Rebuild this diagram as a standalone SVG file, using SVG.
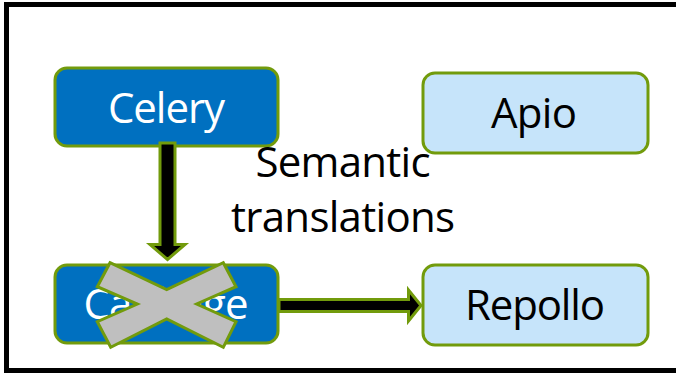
<svg xmlns="http://www.w3.org/2000/svg" width="676" height="375" viewBox="0 0 676 375">
  <style>
    .frame { fill: #ffffff; stroke: #000000; stroke-width: 5; }
    .box { stroke: #729B0C; stroke-width: 3; }
    .dark { fill: #0070C0; }
    .light { fill: #C6E4FA; }
    .lbl { font-family: "Open Sans", "Noto Sans", "DejaVu Sans", sans-serif; font-size: 42px; text-anchor: middle; }
    .white { fill: #ffffff; }
    .black { fill: #000000; }
    .arrow { fill: #000000; stroke: #729B0C; stroke-width: 3; stroke-linejoin: miter; }
    .cross { fill: #BFBFBF; stroke: #729B0C; stroke-width: 3; stroke-linejoin: miter; }
  </style>

  <!-- outer frame, open on the right side -->
  <rect class="frame" x="6.5" y="4.5" width="700" height="366"/>

  <g id="celery">
    <rect class="box dark" x="55" y="68" width="223" height="78" rx="12" ry="12"/>
    <text class="lbl white" x="166.5" y="123" textLength="117">Celery</text>
  </g>

  <g id="apio">
    <rect class="box light" x="423" y="73" width="225" height="80" rx="12" ry="12"/>
    <text class="lbl black" x="534" y="128" textLength="86">Apio</text>
  </g>

  <g id="repollo">
    <rect class="box light" x="423" y="265" width="225" height="80" rx="12" ry="12"/>
    <text class="lbl black" x="535" y="320" textLength="140">Repollo</text>
  </g>

  <g id="cabbage">
    <rect class="box dark" x="55" y="265" width="223" height="78" rx="12" ry="12"/>
    <text class="lbl white" x="166" y="319" textLength="165">Cabbage</text>
    <!-- crossed-out mark -->
    <polygon class="cross" points="110,262.7 166.7,289.5 223.3,262.7 236,286.7 196.7,304 236,321.7 223.3,347.3 166.7,319 110.7,347.3 97.3,321.7 137.3,304 97.3,286.7"/>
  </g>

  <g id="label">
    <text class="lbl black" x="343" y="177" textLength="175">Semantic</text>
    <text class="lbl black" x="343" y="232" textLength="224">translations</text>
  </g>

  <g id="connectors">
    <!-- Celery to Cabbage -->
    <polygon class="arrow" points="160,143 175,143 175,244.5 185,244.5 167.5,259.5 150,244.5 160,244.5"/>
    <!-- Cabbage to Repollo -->
    <polygon class="arrow" points="279,299.5 408.5,299.5 408.5,290 421,305.5 408.5,321 408.5,311.5 279,311.5"/>
  </g>
</svg>
